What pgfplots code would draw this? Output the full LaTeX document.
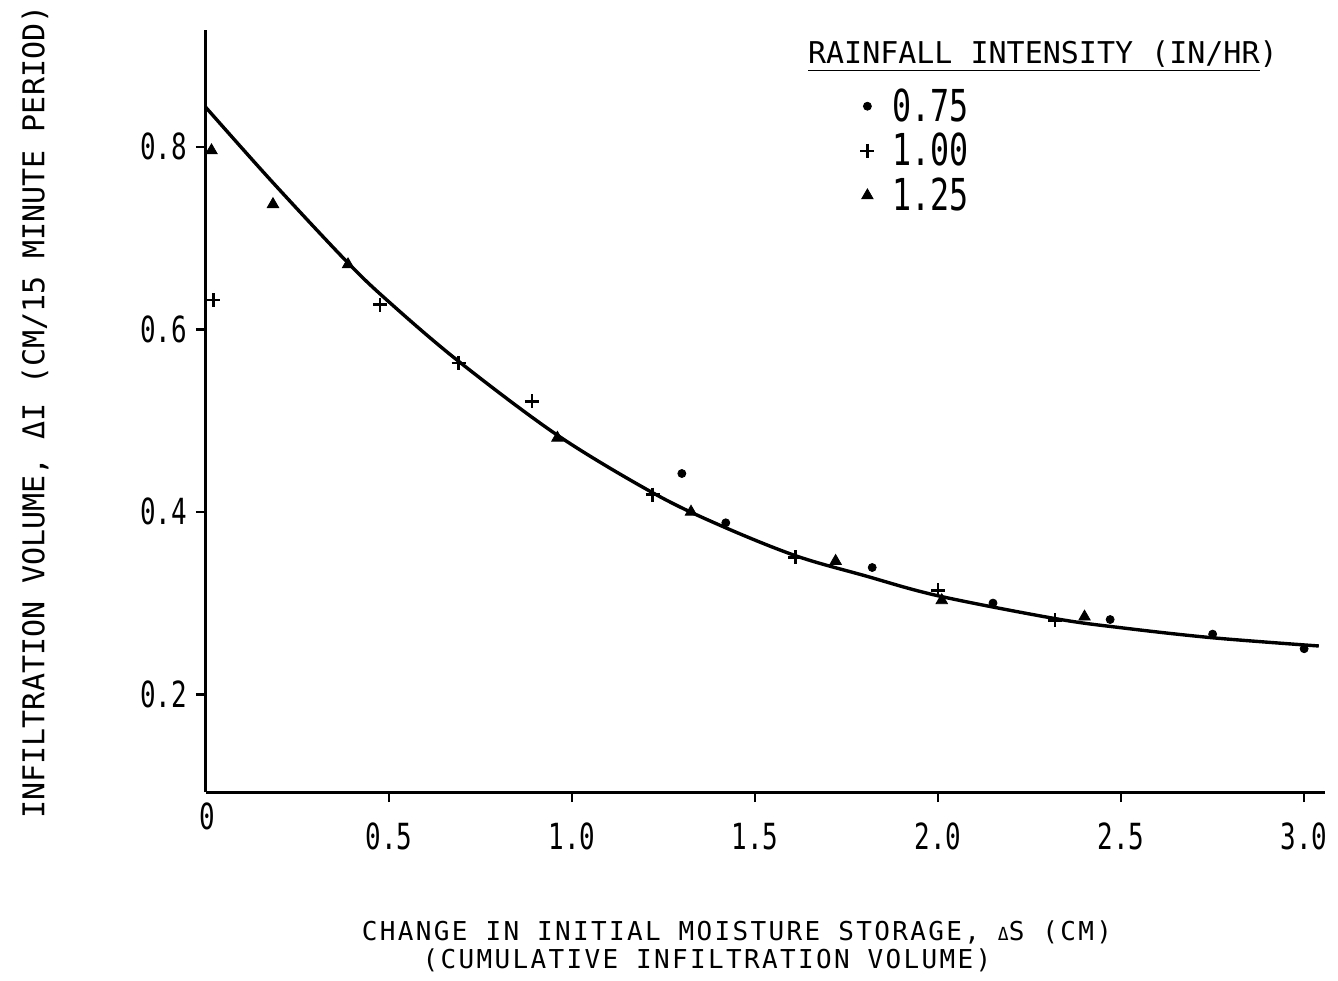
\documentclass[border=0pt]{standalone}
\usepackage{pgfplots}
\pgfplotsset{compat=1.18}
\usepackage{fontspec}
\setmainfont{DejaVu Sans Mono}
\newfontfamily\condfont[FakeStretch=0.72]{DejaVu Sans Mono}
\newfontfamily\spacedfont[LetterSpace=9]{DejaVu Sans Mono}
\begin{document}
\begin{tikzpicture}
\path[use as bounding box] (-103pt,-94pt) rectangle (566pt,396pt);
\begin{axis}[
  at={(0pt,0pt)}, anchor=south west,
  scale only axis, width=559.5pt, height=381pt,
  xmin=0, xmax=3.057, ymin=0.093, ymax=0.928,
  axis x line=bottom, axis y line=left,
  axis line style={-, line width=1.5pt},
  tick align=outside, major tick length=5pt,
  tick style={line width=1.2pt, black},
  xtick={0.5,1.0,1.5,2.0,2.5,3.0},
  xticklabels={0.5,1.0,1.5,2.0,2.5,3.0},
  ytick={0.2,0.4,0.6,0.8},
  yticklabels={0.2,0.4,0.6,0.8},
  xticklabel style={font=\fontsize{18}{20}\condfont, yshift=-7pt},
  yticklabel style={font=\fontsize{18}{20}\condfont, xshift=-1pt},
  clip=false,
  legend style={draw=none, fill=none, at={(327pt,354pt)}, anchor=north west,
     font=\fontsize{22}{23}\condfont, row sep=0.5pt, column sep=7pt, inner sep=0pt},
  legend cell align=left,
  legend image code/.code={\draw[#1, only marks] plot coordinates {(0.2cm,0cm)};},
]
\addplot[line width=1.7pt, smooth, tension=0.55, forget plot] coordinates {
 (0,0.843) (0.18,0.762) (0.385,0.674) (0.5,0.630) (0.69,0.565) (0.96,0.484)
 (1.22,0.421) (1.4,0.386) (1.61,0.352) (1.8,0.330) (2.0,0.308) (2.32,0.283)
 (2.5,0.273) (2.75,0.262) (3.04,0.253)};
\addplot[only marks, mark=*, mark size=2pt, black] coordinates {
 (1.30,0.442) (1.42,0.388) (1.82,0.339) (2.15,0.300) (2.47,0.282) (2.75,0.266) (3.00,0.250)};
\addplot[only marks, mark=+, mark size=3.5pt, line width=1.2pt, black] coordinates {
 (0.02,0.632) (0.475,0.627) (0.69,0.563) (0.89,0.521) (1.22,0.419) (1.61,0.350) (2.00,0.314) (2.32,0.281)};
\addplot[only marks, mark=triangle*, mark size=3.3pt, black] coordinates {
 (0.015,0.796) (0.183,0.737) (0.388,0.671) (0.96,0.481) (1.325,0.400) (1.72,0.346) (2.01,0.303) (2.40,0.285)};
\legend{0.75,1.00,1.25}
\end{axis}
\node[font=\fontsize{18}{20}\condfont, anchor=north] at (0.5pt,-2pt) {0};
\node[font=\fontsize{15}{17}\selectfont, anchor=base west] at (297.5pt,364pt) {\underline{RAINFALL INTENSITY (IN/HR})};
\node[font=\fontsize{15}{17}\selectfont, rotate=90] at (-85.5pt,190pt) {INFILTRATION VOLUME, ΔI (CM/15 MINUTE PERIOD)};
\node[font=\fontsize{13}{14}\spacedfont] at (265.5pt,-70pt) {CHANGE IN INITIAL MOISTURE STORAGE, {\fontsize{9}{9}\selectfont Δ}S (CM)};
\node[font=\fontsize{13}{14}\spacedfont] at (250.5pt,-84pt) {(CUMULATIVE INFILTRATION VOLUME)};
\end{tikzpicture}
\end{document}
